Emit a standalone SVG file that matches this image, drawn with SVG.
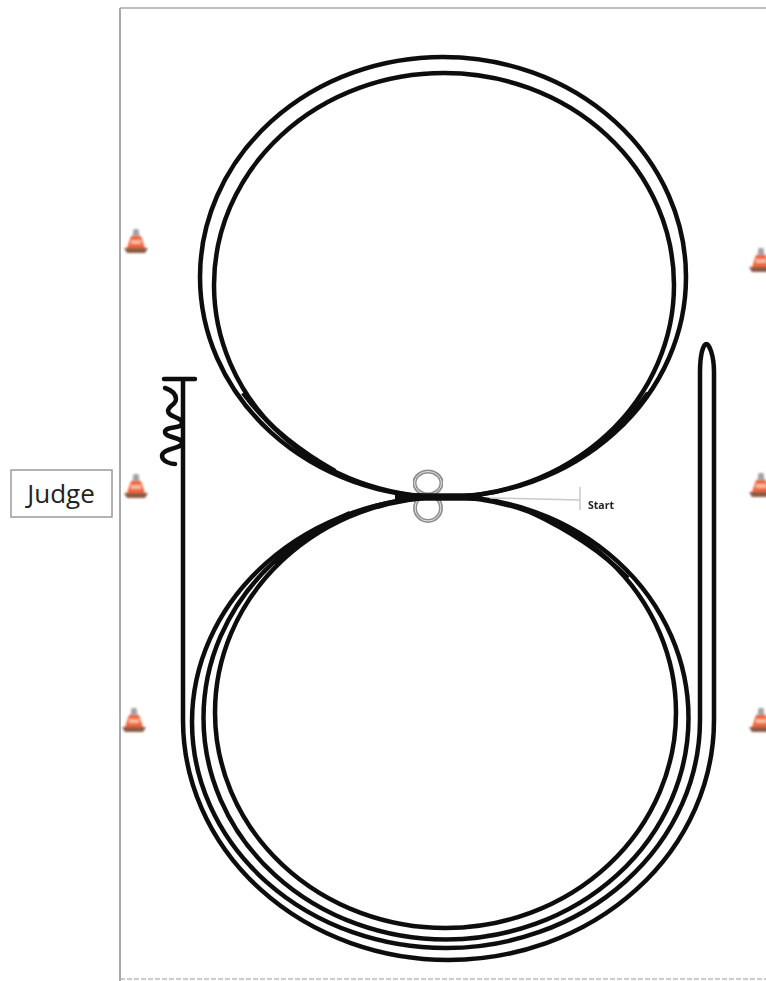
<svg xmlns="http://www.w3.org/2000/svg" width="766" height="981" viewBox="0 0 766 981">
<style>
.t{fill:none;stroke:#0c0c0c;stroke-width:4.500;stroke-linecap:round;stroke-linejoin:round}
.f{fill:none;stroke:#a9a9a9}
.l{font-family:"Open Sans","Liberation Sans",sans-serif;fill:#222}
.s{fill:none;stroke:#8d8d8d;stroke-width:4}
.w{fill:none;stroke:#e4e4e4;stroke-width:1}
</style>
<defs>
<filter id="b" x="-5%" y="-5%" width="110%" height="110%"><feGaussianBlur stdDeviation="0.6"/></filter>
<filter id="c" x="-30%" y="-30%" width="160%" height="160%"><feGaussianBlur stdDeviation="1"/></filter>
<g id="cone" filter="url(#c)">
<path d="M-2.500 -14h5l1 7h-7z" fill="#a3a3a3"/>
<path d="M-5 -7h10l4 12h-18z" fill="#f0663c"/>
<path d="M-5 -3h10v4h-10z" fill="#f6b9a0"/>
<path d="M-12 5h24l-3 5h-18z" fill="#8a5a45"/>
</g>
</defs>
<rect width="766" height="981" fill="#fff"/>
<g id="frame" filter="url(#b)">
<path class="f" stroke-width="2" d="M120 8V981"/>
<path class="f" stroke-width="1.500" d="M120 8H766"/>
<path class="f" stroke-width="2" stroke-dasharray="5 2" d="M120 979H766" stroke-opacity="0.600"/>
</g>
<g id="start-marker" filter="url(#b)">
<ellipse class="s" cx="428" cy="483" rx="13.500" ry="11.500"/>
<ellipse class="w" cx="428" cy="483" rx="13.500" ry="11.500"/>
<ellipse class="s" cx="428" cy="508" rx="13" ry="13"/>
<ellipse class="w" cx="428" cy="508" rx="13" ry="13"/>
</g>
<g id="connectors" filter="url(#b)">
<ellipse class="t" cx="443" cy="277" rx="243" ry="220"/>
<ellipse class="t" cx="444" cy="285" rx="230" ry="212"/>
<ellipse class="t" cx="446" cy="718" rx="242.500" ry="221.500"/>
<ellipse class="t" cx="445.500" cy="712.500" rx="230.500" ry="215.500"/>
<path class="t" d="M183 380V720A265.500 240 0 0 0 714 720V372C714 355 709 344 706.500 344C703 344 700 355 700 372V720A254 228 0 0 1 446 948A254 226 0 0 1 192 722A254 225 0 0 1 446 497"/>
<path class="t" stroke-width="3.500" d="M164 379H195"/>
<path class="t" stroke-width="2.600" d="M165 388C171 390 176 394 176 399C176 405 168 406 168 411C168 417 182 417 182 423C182 429 165 426 165 432C165 438 182 437 182 443C182 449 162 448 162 456C162 461 170 464 175 464"/>
<path fill="none" stroke="#0c0c0c" stroke-width="4.500" d="M243 393Q275 437 335 471M648 393Q616 437 556 471M275 564Q305 533 350 513M628 578Q590 540 530 512"/>
<path fill="none" stroke="#0c0c0c" stroke-width="7.500" d="M395 497H482"/>
<path fill="none" stroke="#c9c9c9" stroke-width="1.500" d="M490 498L580 500M580 487V510"/>
</g>
<g id="start">
<text class="l" x="588" y="509" font-size="10.500" font-weight="700" filter="url(#b)">Start</text>
</g>
<g id="judge">
<rect x="11" y="470" width="101" height="47" fill="#fff" stroke="#9a9a9a" stroke-width="1.500" filter="url(#b)"/>
<text class="l" x="61" y="503" font-size="26" text-anchor="middle">Judge</text>
</g>
<g id="cones">
<use href="#cone" x="136" y="243"/>
<use href="#cone" x="136" y="488"/>
<use href="#cone" x="134" y="722"/>
<use href="#cone" x="761" y="262"/>
<use href="#cone" x="761" y="487"/>
<use href="#cone" x="761" y="722"/>
</g>
</svg>
